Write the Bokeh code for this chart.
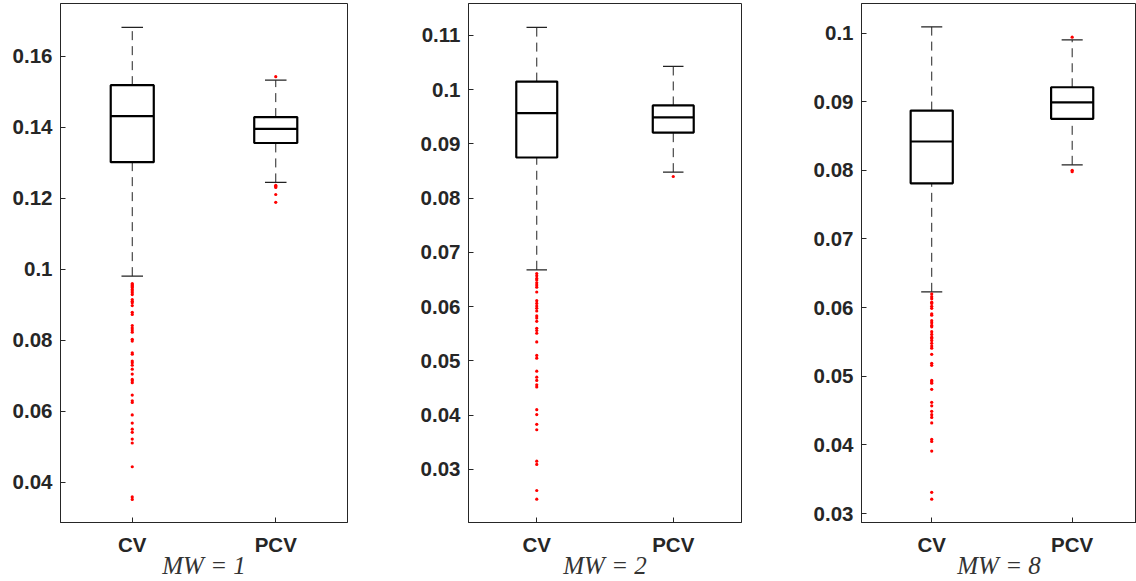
from bokeh.plotting import figure
from bokeh.layouts import row
from bokeh.models import Range1d, FixedTicker, CustomJSTickFormatter
from bokeh.embed import file_html
from bokeh.resources import INLINE

categories = ["CV", "PCV"]
panel_labels = ["MW = 1", "MW = 2", "MW = 8"]

# ---- MW = 1 ----
mw1_lower = [0.0980, 0.1244]
mw1_q1 = [0.1301, 0.1355]
mw1_median = [0.1431, 0.1395]
mw1_q3 = [0.1518, 0.1428]
mw1_upper = [0.1681, 0.1532]
mw1_cv_outliers = [0.0959, 0.0956, 0.0953, 0.0950, 0.0947, 0.0942, 0.0938, 0.0933, 0.0928,
                   0.0914, 0.0909, 0.0905, 0.0897, 0.0878, 0.0872, 0.0841, 0.0834, 0.0828,
                   0.0822, 0.0802, 0.0797, 0.0764, 0.0760, 0.0741, 0.0736, 0.0729, 0.0718,
                   0.0704, 0.0689, 0.0685, 0.0680, 0.0645, 0.0629, 0.0624, 0.0589, 0.0566,
                   0.0549, 0.0540, 0.0521, 0.0510, 0.0443, 0.0358, 0.0351]
mw1_pcv_outliers = [0.1542, 0.1236, 0.1233, 0.1230, 0.1210, 0.1188]
mw1_yticks = [0.04, 0.06, 0.08, 0.1, 0.12, 0.14, 0.16]

# ---- MW = 2 ----
mw2_lower = [0.0668, 0.0848]
mw2_q1 = [0.0875, 0.0921]
mw2_median = [0.0957, 0.0949]
mw2_q3 = [0.1015, 0.0971]
mw2_upper = [0.1115, 0.1043]
mw2_cv_outliers = [0.0661, 0.0657, 0.0652, 0.0649, 0.0644, 0.0640, 0.0636, 0.0627, 0.0611,
                   0.0606, 0.0601, 0.0597, 0.0592, 0.0583, 0.0579, 0.0573, 0.0560, 0.0556,
                   0.0551, 0.0535, 0.0510, 0.0505, 0.0481, 0.0470, 0.0464, 0.0456, 0.0452,
                   0.0410, 0.0401, 0.0383, 0.0373, 0.0315, 0.0309, 0.0261, 0.0245]
mw2_pcv_outliers = [0.0840]
mw2_yticks = [0.03, 0.04, 0.05, 0.06, 0.07, 0.08, 0.09, 0.1, 0.11]

# ---- MW = 8 ----
mw8_lower = [0.0623, 0.0808]
mw8_q1 = [0.0781, 0.0875]
mw8_median = [0.0842, 0.0899]
mw8_q3 = [0.0887, 0.0921]
mw8_upper = [0.1009, 0.0990]
mw8_cv_outliers = [0.0620, 0.0616, 0.0613, 0.0608, 0.0606, 0.0602, 0.0599, 0.0591, 0.0589,
                   0.0581, 0.0578, 0.0574, 0.0572, 0.0565, 0.0561, 0.0557, 0.0555, 0.0552,
                   0.0548, 0.0544, 0.0541, 0.0532, 0.0519, 0.0516, 0.0494, 0.0492, 0.0490,
                   0.0481, 0.0462, 0.0457, 0.0449, 0.0444, 0.0440, 0.0432, 0.0408, 0.0405,
                   0.0391, 0.0331, 0.0321]
mw8_pcv_outliers = [0.0994, 0.0800, 0.0798]
mw8_yticks = [0.03, 0.04, 0.05, 0.06, 0.07, 0.08, 0.09, 0.1]

AX = "#262626"
FONT = "Liberation Sans"
BOX_W = 0.3
CAP_W = 0.15

fmt_code = "return String(Number(tick.toPrecision(6)));"


def make_panel(lower, q1, med, q3, upper, cv_out, pcv_out, yticks, y0, y1, xend, label,
               width, bl, br):
    xs = [i + 1 for i in range(len(categories))]
    p = figure(width=width, height=581, output_backend="svg", toolbar_location=None,
               x_range=Range1d(0.5, xend), y_range=Range1d(y0, y1),
               min_border_left=bl, min_border_right=br, min_border_top=3,
               min_border_bottom=57)
    p.grid.visible = False
    p.outline_line_color = AX
    p.outline_line_width = 1
    p.background_fill_color = "white"
    p.border_fill_color = "white"

    p.xaxis.ticker = FixedTicker(ticks=xs)
    p.xaxis.major_label_overrides = {x: c for x, c in zip(xs, categories)}
    p.yaxis.ticker = FixedTicker(ticks=yticks)
    p.yaxis.formatter = CustomJSTickFormatter(code=fmt_code)
    for ax in (p.xaxis[0], p.yaxis[0]):
        ax.major_tick_in = 5
        ax.major_tick_out = 0
        ax.minor_tick_line_color = None
        ax.axis_line_color = AX
        ax.major_tick_line_color = AX
        ax.major_label_text_font = FONT
        ax.major_label_text_font_style = "bold"
        ax.major_label_text_font_size = "20.5px"
        ax.major_label_text_color = AX
    p.yaxis.major_label_standoff = 8
    p.xaxis.major_label_standoff = 10
    p.xaxis.axis_label = label
    p.xaxis.axis_label_text_font = "Liberation Serif"
    p.xaxis.axis_label_text_font_style = "italic"
    p.xaxis.axis_label_text_font_size = "25px"
    p.xaxis.axis_label_text_color = "#333333"
    p.xaxis.axis_label_standoff = -7

    # whiskers (dashed)
    p.segment(x0=xs, x1=xs, y0=q3, y1=upper, line_color="#222222", line_width=1,
              line_dash="9 6")
    p.segment(x0=xs, x1=xs, y0=lower, y1=q1, line_color="#222222", line_width=1,
              line_dash="9 6")
    # caps
    p.segment(x0=[x - CAP_W / 2 for x in xs], x1=[x + CAP_W / 2 for x in xs],
              y0=upper, y1=upper, line_color="#222222", line_width=1.2)
    p.segment(x0=[x - CAP_W / 2 for x in xs], x1=[x + CAP_W / 2 for x in xs],
              y0=lower, y1=lower, line_color="#222222", line_width=1.2)
    # boxes
    p.vbar(x=xs, width=BOX_W, bottom=q1, top=q3, fill_color=None, line_color="black",
           line_width=2.2)
    # medians
    p.segment(x0=[x - BOX_W / 2 for x in xs], x1=[x + BOX_W / 2 for x in xs],
              y0=med, y1=med, line_color="black", line_width=2.2)
    # outliers
    p.scatter(x=[xs[0]] * len(cv_out), y=cv_out, marker="circle", size=3.2,
              fill_color="red", line_color=None)
    p.scatter(x=[xs[1]] * len(pcv_out), y=pcv_out, marker="circle", size=3.2,
              fill_color="red", line_color=None)
    return p


p1 = make_panel(mw1_lower, mw1_q1, mw1_median, mw1_q3, mw1_upper, mw1_cv_outliers,
                mw1_pcv_outliers, mw1_yticks, 0.0286, 0.1748, 2.5, panel_labels[0],
                400, 60, 53)
p2 = make_panel(mw2_lower, mw2_q1, mw2_median, mw2_q3, mw2_upper, mw2_cv_outliers,
                mw2_pcv_outliers, mw2_yticks, 0.0202, 0.1159, 2.5, panel_labels[1],
                400, 68, 59)
p3 = make_panel(mw8_lower, mw8_q1, mw8_median, mw8_q3, mw8_upper, mw8_cv_outliers,
                mw8_pcv_outliers, mw8_yticks, 0.0287, 0.1043, 2.458, panel_labels[2],
                336, 61, 0)

layout = row(p1, p2, p3, spacing=0)
open("out.html", "w").write(file_html(layout, INLINE))
